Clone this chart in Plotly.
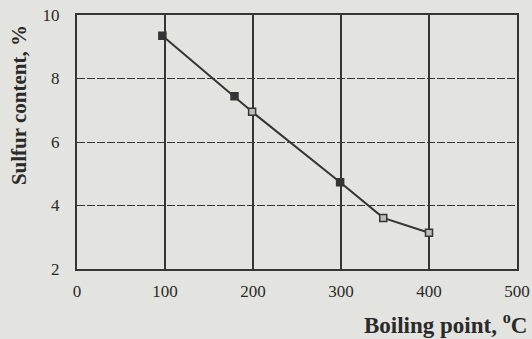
import plotly.graph_objects as go

boiling_point = [97, 179, 199, 299, 348, 400]
sulfur_content = [9.35, 7.44, 6.95, 4.73, 3.61, 3.14]
marker_filled = [True, True, False, True, False, False]

x_ticks = [0, 100, 200, 300, 400, 500]
y_ticks = [2, 4, 6, 8, 10]

ink = "#353535"
paper = "#e3e3df"

fig = go.Figure()
fig.add_trace(go.Scatter(
    x=boiling_point, y=sulfur_content, mode="lines+markers",
    line=dict(color=ink, width=2),
    marker=dict(symbol="square", size=7,
                color=[ink if f else "#bdbdb8" for f in marker_filled],
                line=dict(color=ink, width=1.5)),
    showlegend=False,
))

fig.update_layout(
    width=532, height=339,
    margin=dict(l=77, r=15, t=15, b=70, autoexpand=False),
    paper_bgcolor=paper, plot_bgcolor=paper,
    font=dict(family="Liberation Serif", color="#2a2a2a", size=17),
)
fig.update_xaxes(
    range=[0, 500], tickvals=x_ticks, ticktext=[str(v) for v in x_ticks],
    showgrid=True, gridcolor=ink, gridwidth=1.5,
    showline=True, linecolor=ink, linewidth=2, mirror=True,
    zeroline=False, ticks="", ticklabelstandoff=6, automargin=False,
)
fig.update_yaxes(
    range=[2, 10], tickvals=y_ticks, ticktext=[str(v) for v in y_ticks],
    showgrid=True, gridcolor=ink, gridwidth=1.3, griddash="8px,2px",
    showline=True, linecolor=ink, linewidth=2, mirror=True,
    zeroline=False, ticks="", ticklabelstandoff=12, automargin=False,
)
fig.add_annotation(
    text="<b>Boiling point, <sup>o</sup>C</b>", xref="paper", yref="paper",
    x=1.027, y=-0.278, xanchor="right", yanchor="bottom", showarrow=False,
    font=dict(size=23),
)
fig.add_annotation(
    text="<b>Sulfur content, %</b>", xref="paper", yref="paper",
    x=-0.132, y=0.645, xanchor="center", yanchor="middle", textangle=-90,
    showarrow=False, font=dict(size=21),
)
fig.write_html(
    "out.html",
    config={"displayModeBar": False},
    post_script="document.body.style.margin='0';document.body.style.background='%s';" % paper,
)
